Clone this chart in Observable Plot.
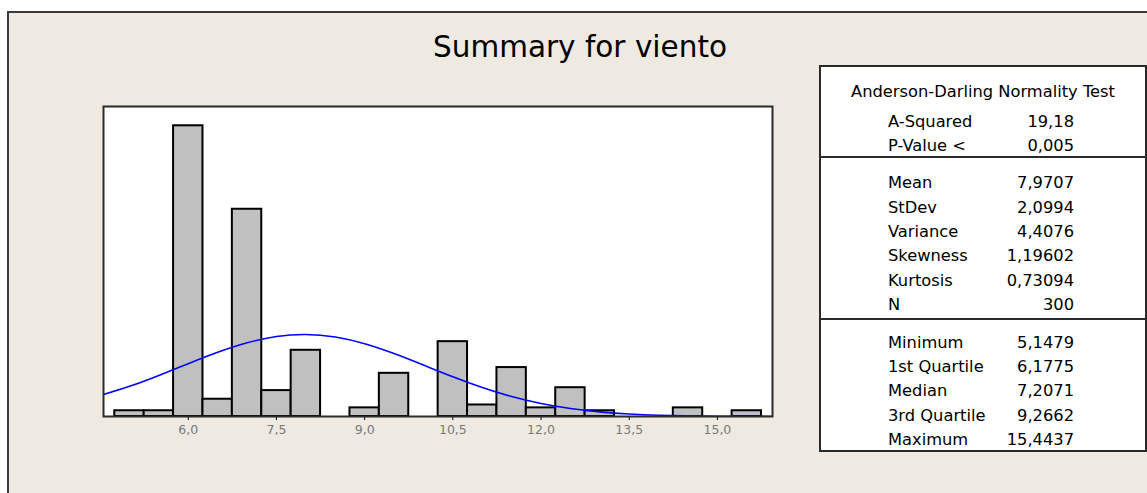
<!DOCTYPE html>
<html>
<head>
<meta charset="utf-8">
<script src="https://cdn.jsdelivr.net/npm/d3@7"></script>
<script src="https://cdn.jsdelivr.net/npm/@observablehq/plot@0.6"></script>
<style>
  html, body { margin: 0; padding: 0; background: #ffffff; width: 1147px; height: 493px; overflow: hidden; }
  #panel { position: absolute; left: 7px; top: 11px; width: 1160px; height: 500px; background: #eeeae1;
           border-left: 2px solid #3a3a3a; border-top: 2px solid #3a3a3a; box-sizing: border-box; }
  #title { position: absolute; left: 380px; width: 400px; top: 30px; text-align: center;
           font-family: "DejaVu Sans", sans-serif; font-size: 29.5px; color: #000; white-space: nowrap; }
  #chart { position: absolute; left: 0; top: 0; }
  #stats { position: absolute; left: 819px; top: 65px; width: 328px; height: 387px; background: #ffffff;
           border: 2px solid #2a2a2a; box-sizing: border-box; }
  .txt { position: absolute; font-family: "DejaVu Sans", sans-serif; font-size: 16.3px; color: #000; white-space: nowrap; line-height: 18px; }
  .hr { position: absolute; left: 0; width: 100%; height: 0; border-top: 2px solid #2a2a2a; }
</style>
</head>
<body>
<div id="panel"></div>
<div id="title">Summary for viento</div>
<div id="chart"></div>
<div id="stats"></div>
<script>
// Histogram bins (bin width 0.5), counts
const binStart = [4.75, 5.25, 5.75, 6.25, 6.75, 7.25, 7.75, 8.25, 8.75, 9.25, 9.75, 10.25, 10.75, 11.25, 11.75, 12.25, 12.75, 13.25, 13.75, 14.25, 14.75, 15.25];
const binEnd   = [5.25, 5.75, 6.25, 6.75, 7.25, 7.75, 8.25, 8.75, 9.25, 9.75, 10.25, 10.75, 11.25, 11.75, 12.25, 12.75, 13.25, 13.75, 14.25, 14.75, 15.25, 15.75];
const counts   = [2, 2, 101, 6, 72, 9, 23, 0, 3, 15, 0, 26, 4, 17, 3, 10, 2, 0, 0, 3, 0, 2];

// Fitted normal curve (in count units)
const curveX = [4.5, 5.0, 5.5, 6.0, 6.5, 7.0, 7.5, 8.0, 8.5, 9.0, 9.5, 10.0, 10.5, 11.0, 11.5, 12.0, 12.5, 13.0, 13.5, 14.0, 14.5, 15.0, 15.5, 16.0];
const curveY = [7.27, 10.48, 14.26, 18.35, 22.30, 25.61, 27.80, 28.50, 27.61, 25.28, 21.86, 17.87, 13.79, 10.07, 6.94, 4.52, 2.78, 1.62, 0.89, 0.46, 0.23, 0.10, 0.05, 0.02];

// Axis ticks
const xTicks = [6.0, 7.5, 9.0, 10.5, 12.0, 13.5, 15.0];
const xTickLabels = ["6,0", "7,5", "9,0", "10,5", "12,0", "13,5", "15,0"];

// Stats table
const statHeader = "Anderson-Darling Normality Test";
const statGroup1Labels = ["A-Squared", "P-Value <"];
const statGroup1Values = ["19,18", "0,005"];
const statGroup2Labels = ["Mean", "StDev", "Variance", "Skewness", "Kurtosis", "N"];
const statGroup2Values = ["7,9707", "2,0994", "4,4076", "1,19602", "0,73094", "300"];
const statGroup3Labels = ["Minimum", "1st Quartile", "Median", "3rd Quartile", "Maximum"];
const statGroup3Values = ["5,1479", "6,1775", "7,2071", "9,2662", "15,4437"];

const bins = binStart.map((s, i) => ({x1: s, x2: binEnd[i], count: counts[i]})).filter(d => d.count > 0);
const curve = curveX.map((x, i) => ({x, y: curveY[i]}));

const plot = Plot.plot({
  width: 800,
  height: 460,
  marginLeft: 103,
  marginRight: 28,
  marginTop: 106,
  marginBottom: 44,
  style: {background: "transparent", fontFamily: "DejaVu Sans, sans-serif", fontSize: "12px"},
  x: {domain: [4.558, 15.937], axis: null},
  y: {domain: [0, 107.7], axis: null},
  marks: [
    Plot.frame({fill: "#ffffff"}),
    Plot.rect(bins, {x1: "x1", x2: "x2", y1: 0, y2: "count", fill: "#c0c0c0", stroke: "#000000", strokeWidth: 2}),
    Plot.line(curve, {x: "x", y: "y", curve: "natural", stroke: "#0000ff", strokeWidth: 1.6, clip: true}),
    Plot.axisX({ticks: xTicks, tickFormat: (d) => xTickLabels[xTicks.indexOf(d)], tickSize: 4, tickPadding: 5,
                stroke: "#000000", fill: "#7a7a7a", fontSize: 12.5, anchor: "bottom"}),
    Plot.frame({stroke: "#2a2a2a", strokeWidth: 2})
  ]
});
document.getElementById("chart").appendChild(plot);

// Build the stats box
const box = document.getElementById("stats");
const boxW = 328;
function addText(text, x, yCenter, align) {
  const el = document.createElement("div");
  el.className = "txt";
  el.textContent = text;
  el.style.top = (yCenter - 9) + "px";
  if (align === "right") { el.style.right = (boxW - 4 - x) + "px"; el.style.textAlign = "right"; }
  else if (align === "center") { el.style.left = (x - 200) + "px"; el.style.width = "400px"; el.style.textAlign = "center"; }
  else el.style.left = x + "px";
  box.appendChild(el);
}
function addRule(y) { const hr = document.createElement("div"); hr.className = "hr"; hr.style.top = y + "px"; box.appendChild(hr); }
const ox = 821, oy = 67;
addText(statHeader, 983 - ox, 91.5 - oy, "center");
const groups = [
  [statGroup1Labels, statGroup1Values, 121.7],
  [statGroup2Labels, statGroup2Values, 183.3],
  [statGroup3Labels, statGroup3Values, 342.7]
];
groups.forEach(([labs, vals, y0]) => {
  labs.forEach((l, i) => {
    addText(l, 888 - ox, y0 + i * 24.3 - oy, "left");
    addText(vals[i], 1074 - ox, y0 + i * 24.3 - oy, "right");
  });
});
addRule(156 - oy);
addRule(318 - oy);
</script>
</body>
</html>
